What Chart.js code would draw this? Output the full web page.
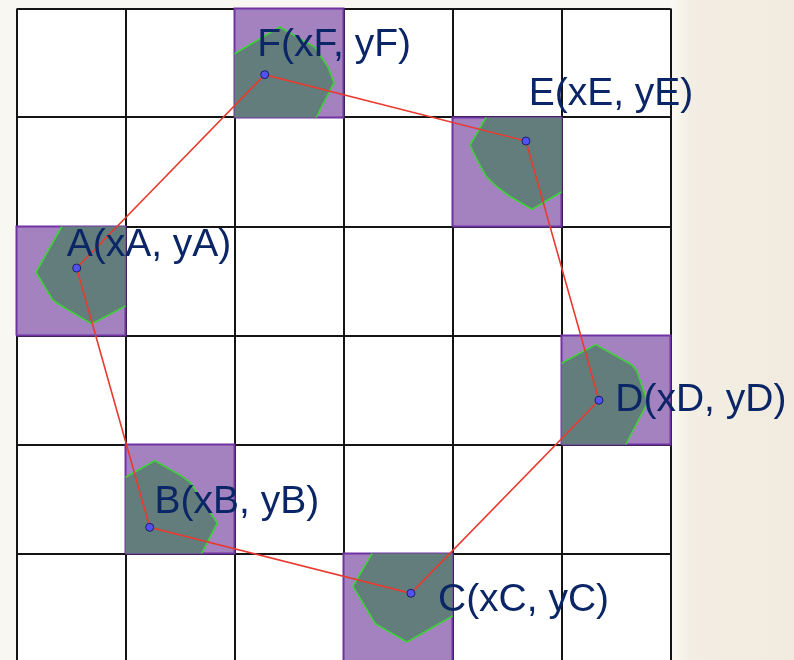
<!DOCTYPE html>
<html><head><meta charset="utf-8">
<script src="https://cdn.jsdelivr.net/npm/chart.js@4/dist/chart.umd.min.js"></script>
<style>
html,body{margin:0;padding:0;overflow:hidden;width:794px;height:660px;}
body{background:linear-gradient(to right,#f8f7f1 0,#f8f7f1 671px,#fbf9f4 671px,#f3eee3 690px,#f1ebdf 100%);}
canvas{display:block;}
</style></head><body>
<canvas id="c" width="794" height="663"></canvas>
<script>
// grid: 6 x 6 unit cells
const gridMin = 0;
const gridMax = 6;

// vertices (point names, positions in grid units)
const pointNames = ['A', 'B', 'C', 'D', 'E', 'F'];
const pointX = [0.552, 1.222, 3.619, 5.344, 4.674, 2.277];
const pointY = [3.619, 1.240, 0.635, 2.406, 4.784, 5.393];

// highlighted cell (lower-left corner) containing each vertex
const cellCol = [0, 1, 3, 5, 4, 2];
const cellRow = [3, 1, 0, 2, 4, 5];

// order in which the red polygon joins the vertices
const pathOrder = ['A', 'F', 'E', 'D', 'C', 'B', 'A'];

// green-bordered region inside each cell: arc vertices, then the cell corner closing it
const arcA = [[0.415, 4], [0.179, 3.58], [0.332, 3.326], [0.399, 3.28], [0.69, 3.106], [1, 3.271]];
const arcB = [[1, 1.699], [1.268, 1.851], [1.521, 1.708], [1.598, 1.647], [1.842, 1.28], [1.699, 1]];
const arcC = [[3.261, 1], [3.087, 0.699], [3.292, 0.356], [3.583, 0.188], [4, 0.427]];
const arcD = [[5, 2.745], [5.314, 2.916], [5.644, 2.732], [5.69, 2.677], [5.791, 2.387], [5.589, 2]];
const arcE = [[4.307, 5], [4.161, 4.745], [4.231, 4.601], [4.307, 4.463], [4.399, 4.372], [4.521, 4.28], [4.729, 4.158], [5, 4.317]];
const arcF = [[2, 5.585], [2.415, 5.83], [2.736, 5.647], [2.858, 5.463], [2.913, 5.319], [2.75, 5]];
const cornerA = [[1, 4]];
const cornerB = [[1, 1]];
const cornerC = [[4, 1]];
const cornerD = [[5, 2]];
const cornerE = [[5, 5]];
const cornerF = [[2, 5]];

const arcs = [arcA, arcB, arcC, arcD, arcE, arcF];
const corners = [cornerA, cornerB, cornerC, cornerD, cornerE, cornerF];

// label offsets (px) relative to each vertex
const labelOffsets = [[-10, -12.5], [4.8, -14], [27, 17.7], [16.3, 10.4], [2.7, -36], [-7.5, -18.3]];

const toPts = arr => arr.map(p => ({x: p[0], y: p[1]}));
const datasets = [];

// purple cells
pointNames.forEach((n, i) => {
  const c = cellCol[i], r = cellRow[i];
  datasets.push({
    data: toPts([[c, r], [c + 1, r], [c + 1, r + 1], [c, r + 1], [c, r]]),
    showLine: true, pointRadius: 0, borderColor: '#7032a4', borderWidth: 2,
    polyFill: '#a481bf', order: 20, clip: false
  });
});
// teal regions
pointNames.forEach((n, i) => {
  const pts = arcs[i].concat(corners[i]);
  pts.push(arcs[i][0]);
  datasets.push({
    data: toPts(pts), showLine: true, pointRadius: 0, borderWidth: 0,
    borderColor: 'rgba(0,0,0,0)', polyFill: '#627d7b', order: 15, clip: false
  });
});
// green arcs
pointNames.forEach((n, i) => {
  datasets.push({
    data: toPts(arcs[i]), showLine: true, pointRadius: 0,
    borderColor: '#3fd03a', borderWidth: 1.6, order: 12, clip: false
  });
});
// red polygon
datasets.push({
  data: pathOrder.map(n => {const k = pointNames.indexOf(n); return {x: pointX[k], y: pointY[k]};}),
  showLine: true, pointRadius: 0, borderColor: '#e83b2f', borderWidth: 1.6, order: 5, clip: false
});
// vertices
const pointsIndex = datasets.length;
datasets.push({
  data: pointNames.map((n, k) => ({x: pointX[k], y: pointY[k]})),
  showLine: false, pointRadius: 4, pointBackgroundColor: '#5252ef',
  pointBorderColor: '#1d1f66', pointBorderWidth: 1, order: 1, clip: false
});

const bgPlugin = {
  id: 'bg',
  beforeDraw(chart) {
    const {ctx, chartArea: a} = chart;
    ctx.save();
    ctx.fillStyle = '#ffffff';
    ctx.fillRect(a.left, a.top, a.right - a.left, a.bottom - a.top);
    ctx.restore();
  }
};

const polyFillPlugin = {
  id: 'polyFill',
  beforeDatasetDraw(chart, args) {
    const ds = chart.data.datasets[args.index];
    if (!ds.polyFill) return;
    const el = args.meta.dataset;
    const ctx = chart.ctx;
    ctx.save();
    ctx.beginPath();
    el.path(ctx);
    ctx.closePath();
    ctx.fillStyle = ds.polyFill;
    ctx.fill();
    ctx.restore();
  }
};

const labelPlugin = {
  id: 'labels',
  afterDatasetsDraw(chart) {
    const ctx = chart.ctx;
    const meta = chart.getDatasetMeta(pointsIndex);
    ctx.save();
    ctx.font = '39px "Liberation Sans", Arial, sans-serif';
    ctx.fillStyle = '#0b2666';
    ctx.textAlign = 'left';
    ctx.textBaseline = 'alphabetic';
    pointNames.forEach((n, i) => {
      const el = meta.data[i];
      ctx.fillText(n + '(x' + n + ', y' + n + ')', el.x + labelOffsets[i][0], el.y + labelOffsets[i][1]);
    });
    ctx.restore();
  }
};

const axisOpts = {
  type: 'linear', min: gridMin, max: gridMax,
  ticks: {display: false, stepSize: 1},
  grid: {color: '#141414', lineWidth: 2, drawTicks: false},
  border: {display: false}
};

new Chart(document.getElementById('c'), {
  type: 'scatter',
  data: {datasets},
  options: {
    responsive: false,
    animation: false,
    devicePixelRatio: 1,
    layout: {autoPadding: false, padding: {left: 16.5, right: 123.5, top: 8.5, bottom: 0.5}},
    plugins: {legend: {display: false}, tooltip: {enabled: false}},
    scales: {x: axisOpts, y: Object.assign({}, axisOpts)}
  },
  plugins: [bgPlugin, polyFillPlugin, labelPlugin]
});
</script>
</body></html>
